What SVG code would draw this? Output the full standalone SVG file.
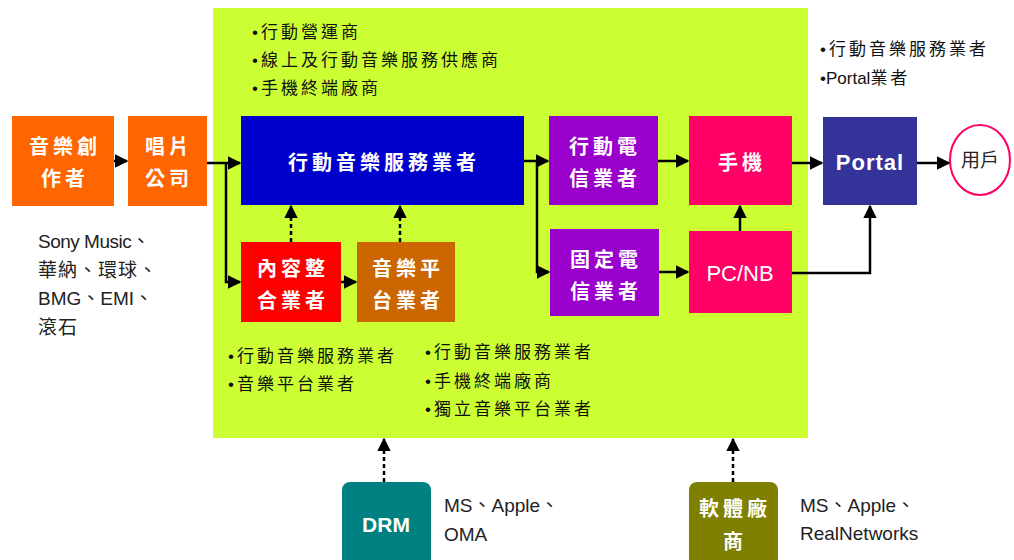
<svg xmlns="http://www.w3.org/2000/svg" width="1014" height="560" viewBox="0 0 1014 560">
<style>
.bt{font-family:"Noto Sans CJK TC","Liberation Sans",sans-serif;font-size:20px;font-weight:bold;fill:#fff;text-anchor:middle;letter-spacing:4px}
.lt{font-family:"Liberation Sans","Noto Sans CJK TC",sans-serif;font-size:17px;fill:#111;letter-spacing:3px}
.st{font-family:"Liberation Sans","Noto Sans CJK TC",sans-serif;font-size:19px;fill:#222}
.ln{stroke:#000;stroke-width:2.5;fill:none}
.ds{stroke:#000;stroke-width:2.5;fill:none;stroke-dasharray:4 3}
</style>
<defs>
<marker id="ah" viewBox="0 0 10 10" refX="9" refY="5" markerWidth="5.5" markerHeight="5.5" orient="auto" markerUnits="strokeWidth"><path d="M0,0 L10,5 L0,10 z" fill="#000"/></marker>
</defs>
<rect width="1014" height="560" fill="#fff"/>
<rect id="bg" x="213" y="8" width="595" height="430" fill="#ccff33"/>

<g id="n-composer"><rect x="12" y="116" width="102" height="90" fill="#ff6600"/><text class="bt" x="65" y="154">音樂創</text><text class="bt" x="65" y="186">作者</text></g>
<g id="n-label"><rect x="128" y="116" width="79" height="90" fill="#ff6600"/><text class="bt" x="169" y="154">唱片</text><text class="bt" x="169" y="186">公司</text></g>
<g id="n-mms"><rect x="241" y="116" width="283" height="89" fill="#0000cc"/><text class="bt" x="384" y="170">行動音樂服務業者</text></g>
<g id="n-content"><rect x="241" y="242" width="100" height="80" fill="#ff0000"/><text class="bt" x="293" y="276">內容整</text><text class="bt" x="293" y="308">合業者</text></g>
<g id="n-platform"><rect x="357" y="242" width="98" height="80" fill="#cc6600"/><text class="bt" x="408" y="276">音樂平</text><text class="bt" x="408" y="308">台業者</text></g>
<g id="n-mobile-tel"><rect x="549" y="116" width="109" height="89" fill="#9900cc"/><text class="bt" x="605" y="154">行動電</text><text class="bt" x="605" y="186">信業者</text></g>
<g id="n-fixed-tel"><rect x="550" y="229" width="109" height="87" fill="#9900cc"/><text class="bt" x="606" y="267">固定電</text><text class="bt" x="606" y="299">信業者</text></g>
<g id="n-phone"><rect x="689" y="116" width="103" height="89" fill="#ff0066"/><text class="bt" x="742" y="170">手機</text></g>
<g id="n-pcnb"><rect x="689" y="231" width="103" height="82" fill="#ff0066"/><text x="740" y="281" font-family="Liberation Sans,sans-serif" font-size="22" fill="#fff" text-anchor="middle">PC/NB</text></g>
<g id="n-portal"><rect x="823" y="117" width="94" height="88" fill="#333399"/><text x="870" y="170" font-family="Liberation Sans,sans-serif" font-size="22" font-weight="bold" fill="#fff" text-anchor="middle" letter-spacing="1">Portal</text></g>
<g id="n-user"><ellipse cx="980" cy="160" rx="30" ry="35" fill="#fff" stroke="#ff0066" stroke-width="2"/><text x="980" y="167" font-family="Noto Sans CJK TC,sans-serif" font-size="19" fill="#222" text-anchor="middle">用戶</text></g>
<g id="n-drm"><rect x="342" y="482" width="89" height="90" rx="8" fill="#008080"/><text x="386" y="532" font-family="Liberation Sans,sans-serif" font-size="21" font-weight="bold" fill="#fff" text-anchor="middle">DRM</text></g>
<g id="n-software"><rect x="689" y="482" width="89" height="90" rx="8" fill="#808000"/><text class="bt" x="735" y="516">軟體廠</text><text class="bt" x="735" y="549">商</text></g>

<g id="connectors">
<line class="ln" x1="114" y1="161" x2="127" y2="161" marker-end="url(#ah)"/>
<polyline class="ln" points="207,163 240,163" marker-end="url(#ah)"/>
<polyline class="ln" points="226,163 226,282 240,282" marker-end="url(#ah)"/>
<line class="ln" x1="341" y1="282" x2="356" y2="282" marker-end="url(#ah)"/>
<line class="ds" x1="291" y1="242" x2="291" y2="206" marker-end="url(#ah)"/>
<line class="ds" x1="400" y1="242" x2="400" y2="206" marker-end="url(#ah)"/>
<polyline class="ln" points="524,161 548,161" marker-end="url(#ah)"/>
<polyline class="ln" points="537,161 537,272 549,272" marker-end="url(#ah)"/>
<line class="ln" x1="658" y1="161" x2="688" y2="161" marker-end="url(#ah)"/>
<line class="ln" x1="659" y1="272" x2="688" y2="272" marker-end="url(#ah)"/>
<line class="ln" x1="740" y1="231" x2="740" y2="206" marker-end="url(#ah)"/>
<line class="ln" x1="792" y1="163" x2="822" y2="163" marker-end="url(#ah)"/>
<line class="ln" x1="917" y1="163" x2="949" y2="163" marker-end="url(#ah)"/>
<polyline class="ln" points="792,273 870,273 870,206" marker-end="url(#ah)"/>
<line class="ds" x1="384" y1="482" x2="384" y2="439" marker-end="url(#ah)"/>
<line class="ds" x1="733" y1="482" x2="733" y2="439" marker-end="url(#ah)"/>
</g>

<g id="labels">
<text class="lt" x="252" y="38">•行動營運商</text>
<text class="lt" x="252" y="66">•線上及行動音樂服務供應商</text>
<text class="lt" x="252" y="94">•手機終端廠商</text>
<text class="lt" x="228" y="362">•行動音樂服務業者</text>
<text class="lt" x="228" y="390">•音樂平台業者</text>
<text class="lt" x="425" y="358">•行動音樂服務業者</text>
<text class="lt" x="425" y="387">•手機終端廠商</text>
<text class="lt" x="425" y="415">•獨立音樂平台業者</text>
<text class="lt" x="820" y="55">•行動音樂服務業者</text>
<text class="lt" x="820" y="84" style="letter-spacing:0">•Portal<tspan style="letter-spacing:3px">業者</tspan></text>
<text class="st" x="38" y="248" letter-spacing="-0.5">Sony Music、</text>
<text class="st" x="38" y="277" letter-spacing="1">華納、環球、</text>
<text class="st" x="38" y="305">BMG、EMI、</text>
<text class="st" x="38" y="334" letter-spacing="1">滾石</text>
<text class="st" x="444" y="512">MS、Apple、</text>
<text class="st" x="444" y="541">OMA</text>
<text class="st" x="800" y="512">MS、Apple、</text>
<text class="st" x="800" y="540">RealNetworks</text>
</g>
</svg>
